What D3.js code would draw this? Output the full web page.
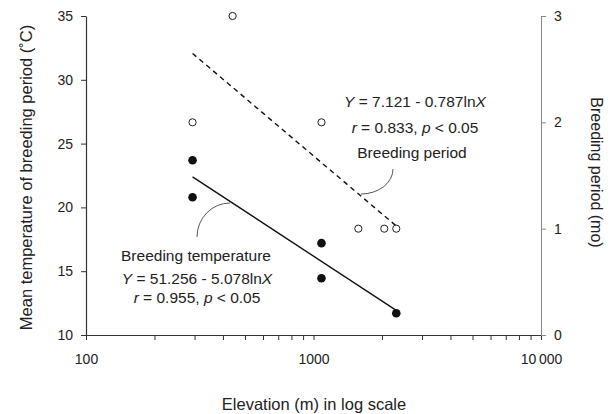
<!DOCTYPE html>
<html><head><meta charset="utf-8">
<script src="https://cdn.jsdelivr.net/npm/d3@7"></script>
<style>
body{margin:0;background:#fff;}
svg{display:block;font-family:"Liberation Sans",Arial,sans-serif;}
</style></head>
<body><div id="chart"></div>
<script>
// Breeding temperature (left axis, filled circles)
const tempElevation = [294, 294, 1084, 1084, 2311];
const tempValues = [23.7, 20.8, 17.2, 14.45, 11.7];
// Breeding period (right axis, open circles)
const periodElevation = [294, 441, 1084, 1574, 2047, 2311];
const periodValues = [2, 3, 2, 1, 1, 1];
// Regression coefficients Y = a - b lnX
const tempFit = [51.256, 5.078];
const periodFit = [7.121, 0.787];
const fitRange = [294, 2311];
const leftTicks = [10, 15, 20, 25, 30, 35];
const rightTicks = [0, 1, 2, 3];
const xMajor = [100, 1000, 10000];
const xLabels = ["100", "1000", "10\u2009000"];

const W = 613, H = 414;
const m = {l: 86, r: 72, t: 16, b: 79};
const FF = "Liberation Sans, Arial, sans-serif";
const svg = d3.select("#chart").append("svg").attr("width", W).attr("height", H);
const x = d3.scaleLog().domain([100, 10000]).range([m.l, W - m.r]);
const yL = d3.scaleLinear().domain([10, 35]).range([H - m.b, m.t]);
const yR = d3.scaleLinear().domain([0, 3]).range([H - m.b, m.t]);
const txt = "#222";

// x axis
const minor = [];
for (let d = 100; d < 10000; d *= 10) for (let k = 2; k <= 9; k++) minor.push(k * d);
const xAxis = d3.axisBottom(x).tickValues(xMajor.concat(minor)).tickSize(5).tickSizeOuter(0).tickFormat(d => {
  const i = xMajor.indexOf(d); return i >= 0 ? xLabels[i] : "";
}).tickPadding(14);
const gx = svg.append("g").attr("transform", `translate(0,${H - m.b})`).call(xAxis);
gx.select(".domain").attr("stroke", "#333").attr("stroke-width", 1.2);
gx.selectAll(".tick line").attr("stroke", "#333");
gx.selectAll("text").attr("font-size", 14).attr("fill", txt).attr("font-family", FF);

// left axis
const gl = svg.append("g").attr("transform", `translate(${m.l},0)`)
  .call(d3.axisLeft(yL).tickValues(leftTicks).tickSize(5).tickSizeOuter(0).tickPadding(8));
gl.select(".domain").attr("stroke", "#333").attr("stroke-width", 1.2);
gl.selectAll(".tick line").attr("stroke", "#333");
gl.selectAll("text").attr("font-size", 14).attr("fill", txt).attr("font-family", FF);

// right axis
const gr = svg.append("g").attr("transform", `translate(${W - m.r},0)`)
  .call(d3.axisRight(yR).tickValues(rightTicks).tickFormat(d3.format("d")).tickSize(5).tickSizeOuter(0).tickPadding(8));
gr.select(".domain").attr("stroke", "#888");
gr.selectAll(".tick line").attr("stroke", "#888");
gr.selectAll("text").attr("font-size", 14).attr("fill", txt).attr("font-family", FF);

// axis titles
svg.append("text").attr("transform", `translate(32,${(m.t + H - m.b) / 2 + 2}) rotate(-90)`)
  .attr("text-anchor", "middle").attr("font-size", 16.5).attr("fill", txt)
  .text("Mean temperature of breeding period (\u02daC)");
svg.append("text").attr("transform", `translate(591,${(m.t + H - m.b) / 2 - 3}) rotate(90)`)
  .attr("text-anchor", "middle").attr("font-size", 16).attr("fill", txt)
  .text("Breeding period (mo)");
svg.append("text").attr("x", 314).attr("y", 410).attr("text-anchor", "middle")
  .attr("font-size", 16.5).attr("fill", txt).text("Elevation (m) in log scale");

// regression lines
const fitLine = (fit, ys) => d3.line().x(d => x(d)).y(d => ys(fit[0] - fit[1] * Math.log(d)));
svg.append("path").attr("d", fitLine(tempFit, yL)(fitRange)).attr("stroke", "#111")
  .attr("stroke-width", 1.4).attr("fill", "none");
svg.append("path").attr("d", fitLine(periodFit, yR)(fitRange)).attr("stroke", "#111")
  .attr("stroke-width", 1.4).attr("stroke-dasharray", "5,4").attr("fill", "none");

// points
svg.selectAll(".tp").data(tempElevation).enter().append("circle")
  .attr("cx", d => x(d)).attr("cy", (d, i) => yL(tempValues[i])).attr("r", 4.3).attr("fill", "#111");
svg.selectAll(".pp").data(periodElevation).enter().append("circle")
  .attr("cx", d => x(d)).attr("cy", (d, i) => yR(periodValues[i])).attr("r", 3.6)
  .attr("fill", "#fff").attr("stroke", "#222").attr("stroke-width", 1);

// leader arcs
svg.append("path").attr("d", "M197,237 A33,34 0 0 1 230,203").attr("fill", "none").attr("stroke", "#444").attr("stroke-width", 0.9);
svg.append("path").attr("d", "M393,169 A32,25 0 0 1 361,194").attr("fill", "none").attr("stroke", "#444").attr("stroke-width", 0.9);

// annotation text
const AF = 15.5;
function eq(cx, cy, a, b) {
  const e = svg.append("text").attr("x", cx).attr("y", cy).attr("text-anchor", "middle")
    .attr("font-size", AF).attr("fill", txt);
  e.append("tspan").attr("font-style", "italic").text("Y");
  e.append("tspan").text(` = ${a} - ${b}ln`);
  e.append("tspan").attr("font-style", "italic").text("X");
}
function rp(cx, cy, r) {
  const e = svg.append("text").attr("x", cx).attr("y", cy).attr("text-anchor", "middle")
    .attr("font-size", AF).attr("fill", txt);
  e.append("tspan").attr("font-style", "italic").text("r");
  e.append("tspan").text(` = ${r}, `);
  e.append("tspan").attr("font-style", "italic").text("p");
  e.append("tspan").text(" < 0.05");
}
eq(415, 107, "7.121", "0.787");
rp(415, 133, "0.833");
svg.append("text").attr("x", 412).attr("y", 158).attr("text-anchor", "middle").attr("font-size", AF).attr("fill", txt).text("Breeding period");

svg.append("text").attr("x", 196).attr("y", 261).attr("text-anchor", "middle").attr("font-size", AF).attr("fill", txt).text("Breeding temperature");
eq(197, 284, "51.256", "5.078");
rp(197, 303, "0.955");
</script></body></html>
